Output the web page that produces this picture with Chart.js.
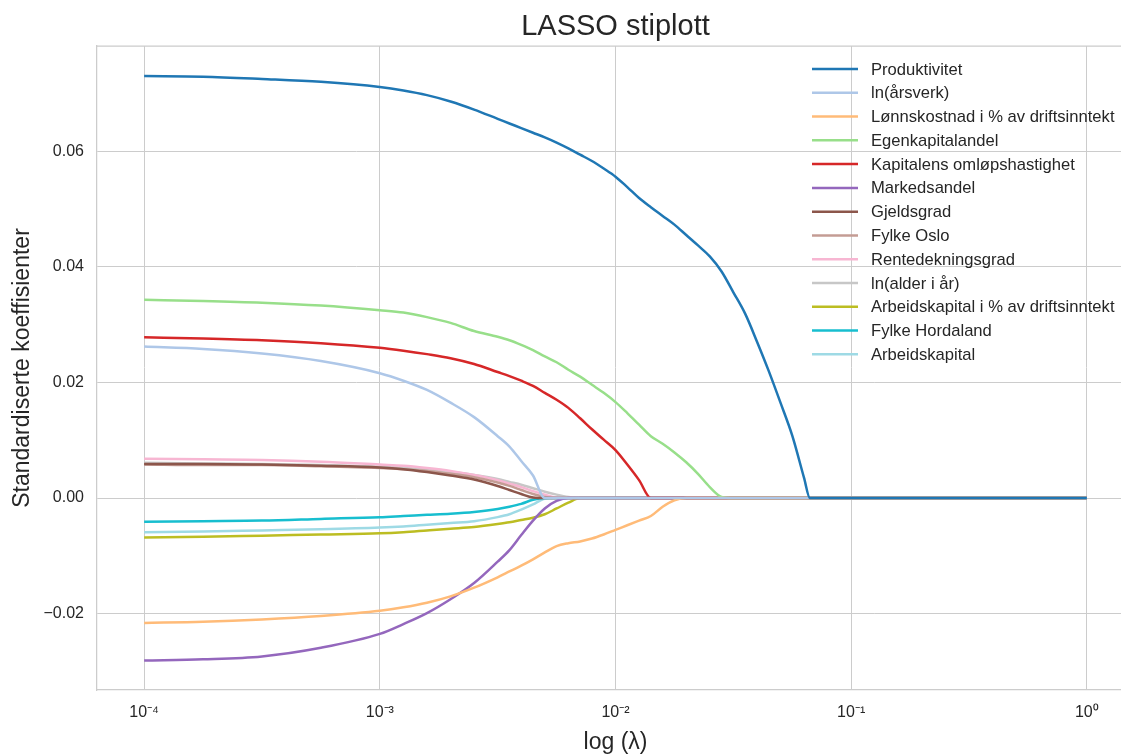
<!DOCTYPE html>
<html>
<head>
<meta charset="utf-8">
<script src="https://cdn.jsdelivr.net/npm/chart.js@4.4.1/dist/chart.umd.min.js"></script>
<style>
html, body { margin: 0; padding: 0; background: #ffffff; overflow: hidden; width: 1121px; height: 756px; }
canvas { display: block; }
</style>
</head>
<body>
<canvas id="c" width="1140" height="756"></canvas>
<script>
// log10(lambda) sample positions
const logLambda = [-4, -3.75, -3.5, -3.25, -3, -2.9, -2.8, -2.7, -2.6, -2.5,
  -2.45, -2.4, -2.35, -2.3, -2.25, -2.2, -2.15, -2.1, -2.05, -2,
  -1.95, -1.9, -1.85, -1.8, -1.75, -1.7, -1.65, -1.6, -1.55, -1.5,
  -1.45, -1.4, -1.35, -1.3, -1.25, -1.2, -1.175, -1.1, -1, -0.5, 0];

const chartTitle = "LASSO stiplott";
const seriesNames = ["Produktivitet", "ln(årsverk)", "Lønnskostnad i % av driftsinntekt", "Egenkapitalandel",
  "Kapitalens omløpshastighet", "Markedsandel", "Gjeldsgrad", "Fylke Oslo", "Rentedekningsgrad",
  "ln(alder i år)", "Arbeidskapital i % av driftsinntekt", "Fylke Hordaland", "Arbeidskapital"];

const produktivitet = [0.0730,0.0729,0.0725,0.0720,0.0711, 0.0705,0.0697,0.0686,0.0672,0.0656,
  0.0648,0.0640,0.0632,0.0624,0.0615, 0.0605,0.0594,0.0583,0.0570,0.0556,
  0.0538,0.0519,0.0503,0.0488,0.0473, 0.0455,0.0437,0.0418,0.0392,0.0356,
  0.0319,0.0271,0.0220,0.0165,0.0108, 0.0035,0,0,0,0, 0];
const lnArsverk = [0.0262,0.0258,0.0250,0.0237,0.0216, 0.0203,0.0187,0.0165,0.0140,0.0107,
  0.0089,0.0064,0.0039,0,0, 0,0,0,0,0, 0,0,0,0,0, 0,0,0,0,0, 0,0,0,0,0, 0,0,0,0,0, 0];
const lonnskostnad = [-0.0216,-0.0214,-0.0210,-0.0204,-0.0195, -0.0189,-0.0181,-0.0170,-0.0155,-0.0137,
  -0.0127,-0.0117,-0.0106,-0.0094,-0.0083, -0.0078,-0.0075,-0.0070,-0.0063,-0.0055,
  -0.0047,-0.0039,-0.0031,-0.0015,-0.0004, 0,0,0,0,0, 0,0,0,0,0, 0,0,0,0,0, 0];
const egenkapital = [0.0343,0.0341,0.0338,0.0333,0.0325, 0.0321,0.0313,0.0303,0.0289,0.0279,
  0.0273,0.0265,0.0256,0.0245,0.0235, 0.0222,0.0210,0.0196,0.0182,0.0166,
  0.0147,0.0127,0.0107,0.0094,0.0079, 0.0062,0.0042,0.0019,0.0002,0,
  0,0,0,0,0, 0,0,0,0,0, 0];
const kapitalens = [0.0278,0.0276,0.0273,0.0268,0.0260, 0.0255,0.0249,0.0242,0.0232,0.0218,
  0.0211,0.0203,0.0194,0.0182,0.0170, 0.0156,0.0138,0.0119,0.0101,0.0083,
  0.0058,0.0031,0,0,0, 0,0,0,0,0, 0,0,0,0,0, 0,0,0,0,0, 0];
const markedsandel = [-0.0281,-0.0279,-0.0274,-0.0259,-0.0235, -0.0218,-0.0199,-0.0175,-0.0147,-0.0110,
  -0.0090,-0.0064,-0.0039,-0.0018,-0.0005, 0,0,0,0,0, 0,0,0,0,0, 0,0,0,0,0, 0,0,0,0,0, 0,0,0,0,0, 0];
const gjeldsgrad = [0.0059,0.0059,0.0058,0.0056,0.0053, 0.0050,0.0045,0.0039,0.0032,0.0021,
  0.0014,0.0007,0.0001,0,0, 0,0,0,0,0, 0,0,0,0,0, 0,0,0,0,0, 0,0,0,0,0, 0,0,0,0,0, 0];
const fylkeOslo = [0.0058,0.0057,0.0057,0.0055,0.0052, 0.0050,0.0047,0.0042,0.0036,0.0027,
  0.0021,0.0014,0.0007,0.0002,0, 0,0,0,0,0, 0,0,0,0,0, 0,0,0,0,0, 0,0,0,0,0, 0,0,0,0,0, 0];
const rentedekning = [0.0068,0.0067,0.0066,0.0063,0.0058, 0.0056,0.0052,0.0047,0.0040,0.0031,
  0.0025,0.0019,0.0012,0.0006,0.0001, 0,0,0,0,0, 0,0,0,0,0, 0,0,0,0,0, 0,0,0,0,0, 0,0,0,0,0, 0];
const lnAlder = [0.0061,0.0060,0.0059,0.0057,0.0054, 0.0052,0.0049,0.0045,0.0040,0.0033,
  0.0028,0.0023,0.0017,0.0011,0.0006, 0.0002,0,0,0,0, 0,0,0,0,0, 0,0,0,0,0, 0,0,0,0,0, 0,0,0,0,0, 0];
const arbeidskapitalPst = [-0.0068,-0.0067,-0.0065,-0.0063,-0.0061, -0.0059,-0.0056,-0.0053,-0.0050,-0.0045,
  -0.0042,-0.0038,-0.0034,-0.0028,-0.0018, -0.0008,0,0,0,0, 0,0,0,0,0, 0,0,0,0,0, 0,0,0,0,0, 0,0,0,0,0, 0];
const fylkeHordaland = [-0.0041,-0.0040,-0.0039,-0.0036,-0.0033, -0.0031,-0.0029,-0.0027,-0.0024,-0.0019,
  -0.0015,-0.0010,-0.0003,0,0, 0,0,0,0,0, 0,0,0,0,0, 0,0,0,0,0, 0,0,0,0,0, 0,0,0,0,0, 0];
const arbeidskapital = [-0.0059,-0.0058,-0.0056,-0.0054,-0.0051, -0.0049,-0.0046,-0.0043,-0.0040,-0.0033,
  -0.0028,-0.0020,-0.0011,-0.0001,0, 0,0,0,0,0, 0,0,0,0,0, 0,0,0,0,0, 0,0,0,0,0, 0,0,0,0,0, 0];

const xTickValues = [1e-4, 1e-3, 1e-2, 1e-1, 1];
const xTickLabels = ["10\u207B\u2074", "10\u207B\u00B3", "10\u207B\u00B2", "10\u207B\u00B9", "10\u2070"];
const yTickValues = [-0.02, 0, 0.02, 0.04, 0.06];

const allSeries = [produktivitet, lnArsverk, lonnskostnad, egenkapital, kapitalens, markedsandel,
  gjeldsgrad, fylkeOslo, rentedekning, lnAlder, arbeidskapitalPst, fylkeHordaland, arbeidskapital];
const colors = ["#1f77b4", "#aec7e8", "#ffbb78", "#98df8a", "#d62728", "#9467bd",
  "#8c564b", "#c49c94", "#f7b6d2", "#c7c7c7", "#bcbd22", "#17becf", "#9edae5"];

const FONT = "'Liberation Sans', Arial, sans-serif";
const TEXT = "#262626";
const GRID = "#cccccc";

const datasets = allSeries.map((vals, k) => ({
  label: seriesNames[k],
  data: vals.map((v, i) => ({ x: Math.pow(10, logLambda[i]), y: v })),
  borderColor: colors[k],
  backgroundColor: colors[k],
  borderWidth: 2.5,
  pointRadius: 0,
  fill: false,
  cubicInterpolationMode: 'monotone'
}));

const framePlugin = {
  id: 'frame',
  beforeDatasetsDraw(chart) {
    const { ctx, chartArea: a } = chart;
    ctx.save();
    ctx.strokeStyle = GRID;
    ctx.lineWidth = 1.25;
    ctx.beginPath();
    ctx.moveTo(a.left, a.top);
    ctx.lineTo(a.right, a.top);
    ctx.lineTo(a.right, a.bottom);
    ctx.stroke();
    ctx.restore();
  },
  afterDraw(chart) {
    const { ctx, chartArea: a } = chart;
    ctx.save();
    ctx.font = "29px " + FONT;
    ctx.fillStyle = TEXT;
    ctx.textAlign = 'center';
    ctx.textBaseline = 'middle';
    ctx.fillText(chartTitle, (a.left + a.right) / 2, 27);
    ctx.restore();
  }
};

const legendPlugin = {
  id: 'insideLegend',
  afterDatasetsDraw(chart) {
    const ctx = chart.ctx;
    ctx.save();
    ctx.font = "16.6px " + FONT;
    ctx.textBaseline = 'middle';
    ctx.textAlign = 'left';
    chart.data.datasets.forEach((ds, i) => {
      const y = 69 + i * 23.78;
      ctx.strokeStyle = ds.borderColor;
      ctx.lineWidth = 2.5;
      ctx.beginPath();
      ctx.moveTo(812, y);
      ctx.lineTo(858, y);
      ctx.stroke();
      ctx.fillStyle = TEXT;
      ctx.fillText(ds.label, 871, y + 1);
    });
    ctx.restore();
  }
};

new Chart(document.getElementById('c'), {
  type: 'line',
  data: { datasets },
  options: {
    responsive: false,
    animation: false,
    devicePixelRatio: 1,
    layout: { padding: { left: 0, right: 6, top: 46, bottom: 0 } },
    plugins: {
      legend: { display: false },
      tooltip: { enabled: false },
      title: { display: false }
    },
    scales: {
      x: {
        type: 'logarithmic',
        min: Math.pow(10, -4.2),
        max: Math.pow(10, 0.2),
        afterBuildTicks(scale) { scale.ticks = xTickValues.map(v => ({ value: v, major: false })); },
        afterFit(scale) { scale.height = 66; },
        ticks: {
          color: TEXT,
          font: { family: FONT, size: 16 },
          padding: 13,
          maxRotation: 0,
          autoSkip: false,
          callback: (v, i) => xTickLabels[i]
        },
        grid: { color: GRID, lineWidth: 1, drawTicks: false },
        border: { display: true, color: GRID, width: 1.25 },
        title: {
          display: true,
          text: 'log (λ)',
          color: TEXT,
          font: { family: FONT, size: 23 },
          padding: { top: 0, bottom: 0 }
        }
      },
      y: {
        type: 'linear',
        min: -0.0332,
        max: 0.0782,
        afterBuildTicks(scale) { scale.ticks = yTickValues.map(v => ({ value: v })); },
        afterFit(scale) { scale.width = 97; },
        ticks: {
          color: TEXT,
          font: { family: FONT, size: 16 },
          padding: 13,
          callback: (v) => v.toFixed(2).replace('-', '\u2212')
        },
        grid: { color: GRID, lineWidth: 1, drawTicks: false },
        border: { display: true, color: GRID, width: 1.25 },
        title: {
          display: true,
          text: 'Standardiserte koeffisienter',
          color: TEXT,
          font: { family: FONT, size: 23 },
          padding: { top: 9, bottom: 0 }
        }
      }
    }
  },
  plugins: [framePlugin, legendPlugin]
});
</script>
</body>
</html>
